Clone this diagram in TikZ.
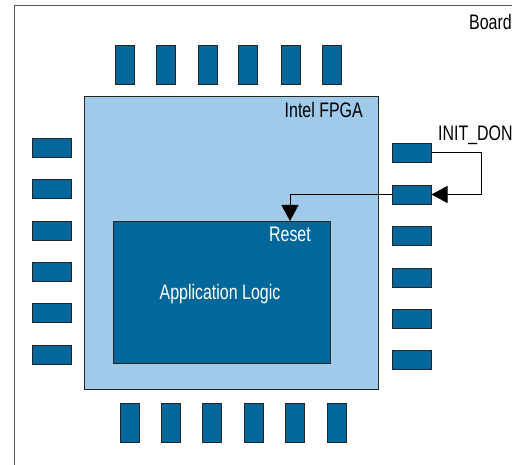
\documentclass[tikz,border=0pt]{standalone}
\usepackage{fontspec}
\setmainfont{Liberation Sans}[FakeStretch=0.76]
\usetikzlibrary{arrows.meta}
\definecolor{pinblue}{HTML}{04679A}
\definecolor{fpgablue}{HTML}{A0CAEA}
\definecolor{boardgray}{HTML}{555555}
\tikzset{
  pinv/.style={draw=black!85, line width=0.8pt, fill=pinblue, minimum width=19pt, minimum height=39pt, inner sep=0pt, outer sep=0pt},
  pinh/.style={draw=black!85, line width=0.8pt, fill=pinblue, minimum width=39pt, minimum height=19pt, inner sep=0pt, outer sep=0pt},
  lbl/.style={inner sep=0pt, font=\fontsize{21}{24}\selectfont},
  conn/.style={line width=1pt, -{Triangle[length=16pt,width=17pt]}},
}
\begin{document}
\begin{tikzpicture}[x=1pt,y=-1pt]
\clip (0,0) rectangle (512,465);
\fill[white] (0,0) rectangle (512,465);
% board
\draw[boardgray, line width=1pt] (14,480) -- (14,6) -- (530,6);
\node[lbl, anchor=base east] (board) at (512,30) {Board};
% fpga
\node[draw=black!85, line width=1pt, fill=fpgablue, minimum width=294pt, minimum height=293pt, inner sep=0pt, outer sep=0pt] (fpga) at (231,243.5) {};
\node[lbl, anchor=base east] (fpgalbl) at (363,118) {Intel FPGA};
% application logic
\node[draw=black!85, line width=0.8pt, fill=pinblue, minimum width=217pt, minimum height=142pt, inner sep=0pt, outer sep=0pt] (app) at (221.5,292) {};
\node[lbl, anchor=base, text=white] (applbl) at (220,300) {Application Logic};
\node[lbl, anchor=base east, text=white] (rstlbl) at (311,242) {Reset};
% top pins
\foreach \i/\x in {1/124.5,2/166,3/207.5,4/248,5/290.5,6/331.5}
  \node[pinv] (t\i) at (\x,64.5) {};
% bottom pins
\foreach \i/\x in {1/129.5,2/170.5,3/212,4/253.5,5/294.5,6/336.5}
  \node[pinv] (b\i) at (\x,423) {};
% left pins
\foreach \i/\y in {1/147.5,2/188.5,3/230.5,4/272,5/313,6/354.5}
  \node[pinh] (l\i) at (51.5,\y) {};
% right pins
\foreach \i/\y in {1/152.5,2/194.5,3/235.5,4/277.5,5/318.5,6/360}
  \node[pinh] (r\i) at (412,\y) {};
% INIT_DONE
\node[lbl, anchor=base west] (initlbl) at (438,141) {INIT\_DON};
\draw[conn] (r1.east) -- (481,152.5) |- (r2.east);
\coordinate (rst) at (290,221);
\draw[conn] (r2.west) -| (rst);
\end{tikzpicture}
\end{document}
